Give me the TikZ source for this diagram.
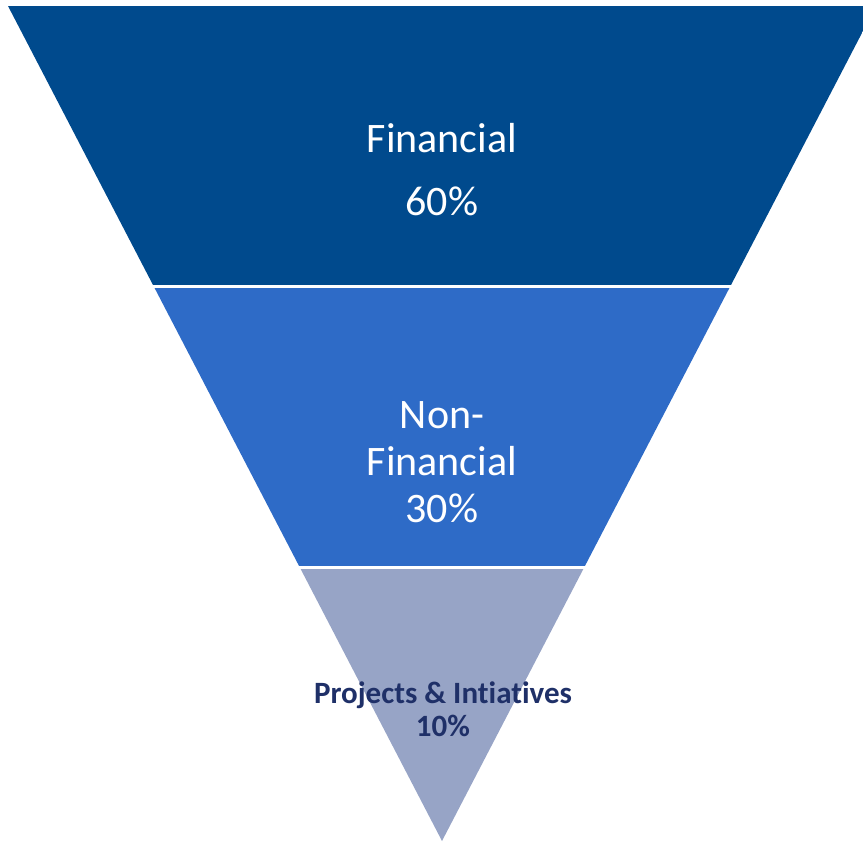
\documentclass[tikz,border=0pt]{standalone}
\usepackage{fontspec}
\setmainfont[Ligatures=CommonOff]{Carlito}
\definecolor{bandtop}{RGB}{0,74,141}
\definecolor{bandmid}{RGB}{46,107,199}
\definecolor{bandlow}{RGB}{151,164,198}
\definecolor{navytext}{RGB}{31,48,104}
\tikzset{
  bigtxt/.style={anchor=base, text=white, inner sep=0pt, font=\fontsize{42}{47}\selectfont},
  smalltxt/.style={anchor=base, text=navytext, inner sep=0pt, font=\fontsize{31}{35}\selectfont\bfseries},
}
\begin{document}
\begin{tikzpicture}[x=1pt,y=-1pt]
  \useasboundingbox (0,0) rectangle (863,843);
  % inverted triangle split into three bands
  \begin{scope}
    \clip (0,0) rectangle (863,843);
    \clip (8,6) -- (876,6) -- (442,841) -- cycle;
    \fill[bandtop] (0,6) rectangle (900,285);
    \fill[bandmid] (0,288) rectangle (900,566);
    \fill[bandlow] (0,569) rectangle (900,845);
  \end{scope}
  % labels
  \node[bigtxt] (fin1) at (442,152) {Financial};
  \node[bigtxt] (fin2) at (442,215) {60\%};
  \node[bigtxt] (non1) at (442,428) {Non-};
  \node[bigtxt] (non2) at (442,475) {Financial};
  \node[bigtxt] (non3) at (442,522) {30\%};
  \node[smalltxt] (pro1) at (443,703) {Projects \& Intiatives};
  \node[smalltxt] (pro2) at (443,736) {10\%};
\end{tikzpicture}
\end{document}
